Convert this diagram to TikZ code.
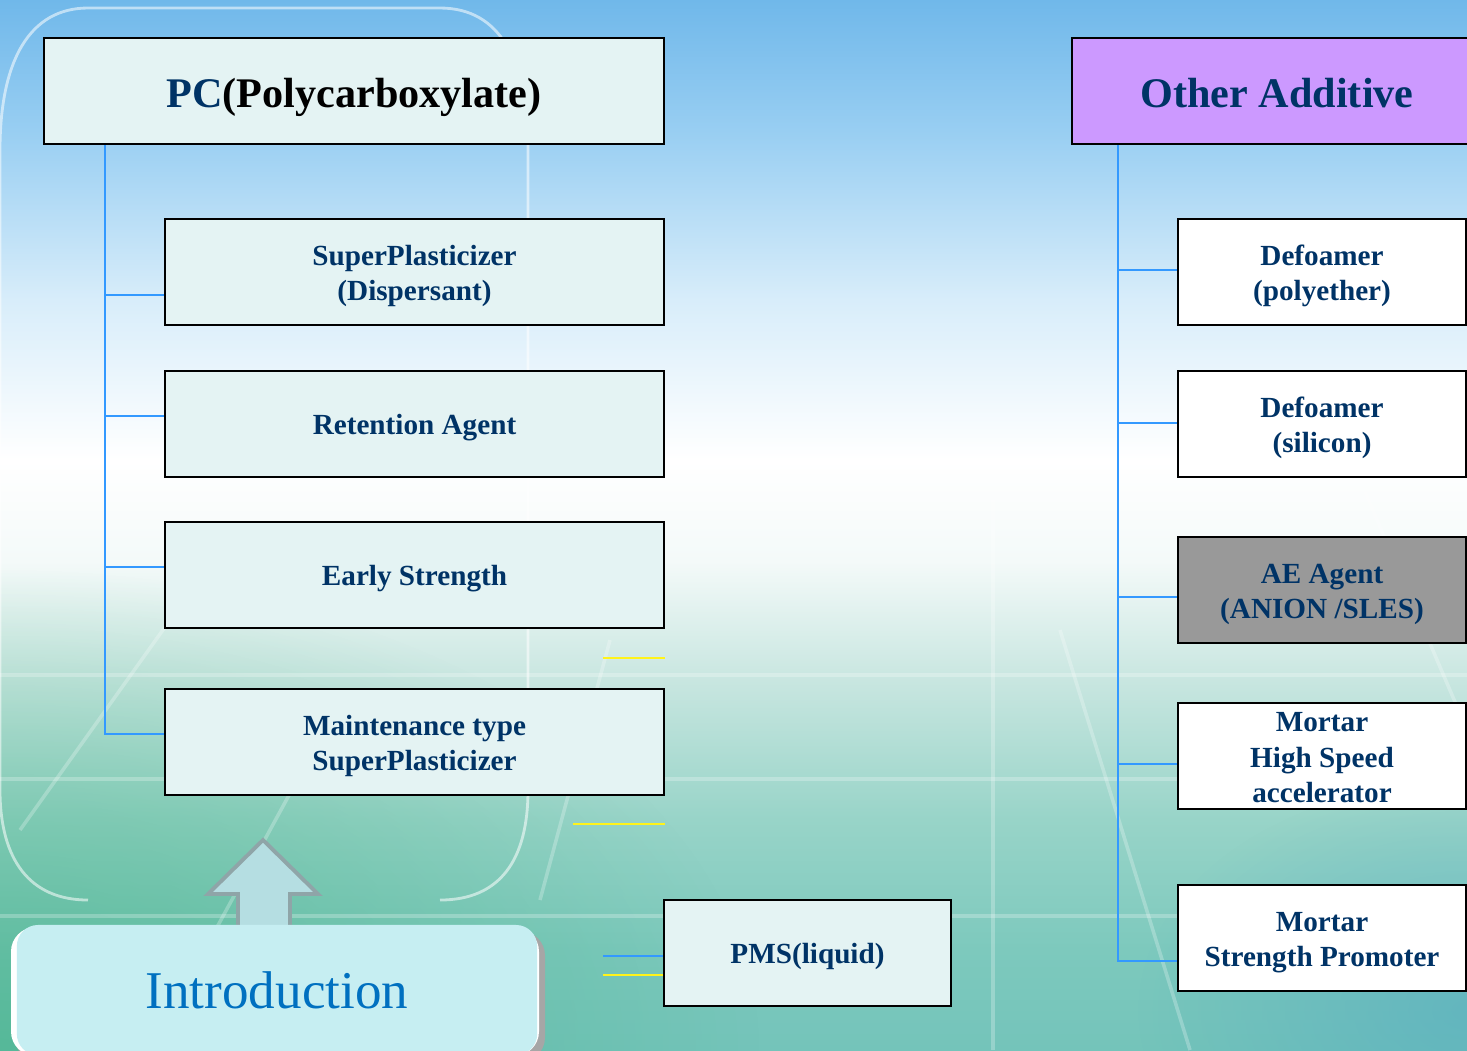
\documentclass[tikz,border=0pt]{standalone}
\usepackage{fontspec}
\setmainfont{Liberation Serif}
\usepackage{xcolor}
\usetikzlibrary{fadings}

\definecolor{navy}{HTML}{003366}
\definecolor{linkblue}{HTML}{3399FF}
\definecolor{boxcyan}{HTML}{E4F3F3}
\definecolor{lilac}{HTML}{CC99FF}
\definecolor{aegray}{HTML}{999999}
\definecolor{introblue}{HTML}{0070C0}
\definecolor{btncyan}{HTML}{C6EEF2}
\definecolor{arrowfill}{HTML}{B5DEE2}
\definecolor{arrowedge}{HTML}{8FA5A8}
\definecolor{bggreen}{HTML}{3DAF7E}
\definecolor{bgdeep}{HTML}{4AA3C4}

% slide background, bottom (25bp) to top (75bp)
\pgfdeclareverticalshading{slidebg}{100bp}{%
  color(0bp)=(rgb,255:red,116;green,196;blue,186);
  color(25bp)=(rgb,255:red,116;green,196;blue,186);
  color(29.8bp)=(rgb,255:red,125;green,201;blue,189);
  color(36bp)=(rgb,255:red,152;green,212;blue,200);
  color(42.6bp)=(rgb,255:red,200;green,230;blue,224);
  color(48.3bp)=(rgb,255:red,244;green,250;blue,249);
  color(53.1bp)=(rgb,255:red,255;green,255;blue,255);
  color(60.7bp)=(rgb,255:red,216;green,237;blue,250);
  color(68.8bp)=(rgb,255:red,152;green,206;blue,242);
  color(75bp)=(rgb,255:red,112;green,184;blue,234);
  color(100bp)=(rgb,255:red,112;green,184;blue,234)}

\tikzfading[name=glow, inner color=transparent!0, outer color=transparent!100]

\newcommand\itemfont{\bfseries\fontsize{8.3}{10.1}\selectfont}
\newcommand\headfont{\bfseries\fontsize{12}{14}\selectfont}

\begin{document}
\begin{tikzpicture}[x=0.01cm, y=-0.01cm,
    box/.style={draw=black, line width=0.7pt, inner sep=0pt, align=center, text=navy, font=\itemfont,
        text height=6.2pt, text depth=0pt},
    two lines/.style={text height=16.4pt},
    three lines/.style={text height=26.5pt},
    pcitem/.style={box, fill=boxcyan, minimum width=4.99cm, minimum height=1.06cm},
    additem/.style={box, fill=white, minimum width=2.88cm, minimum height=1.06cm},
    headbox/.style={box, minimum height=1.06cm, font=\headfont, text height=9.1pt},
    link/.style={linkblue, line width=0.6pt},
    yline/.style={yellow!90!white, line width=0.6pt},
    bgline/.style={white, opacity=0.25, line width=1pt}]

    \useasboundingbox (0,0) rectangle (1467,1050);
    \clip (0,0) rectangle (1467,1050);

    % background
    \shade[shading=slidebg] (0,0) rectangle (1467,1050);
    \fill[bggreen, opacity=0.55, path fading=glow] (0,1050) ellipse (760 and 480);
    \fill[bgdeep, opacity=0.45, path fading=glow] (1467,1010) ellipse (330 and 230);
    \draw[bgline] (0,675) -- (1467,675);
    \draw[bgline] (0,779) -- (1467,779);
    \draw[bgline] (0,916) -- (1467,916);
    \draw[bgline] (993,500) -- (993,1050);
    \draw[bgline] (20,830) -- (170,620);
    \draw[bgline] (150,1050) -- (330,720);
    \draw[bgline] (540,900) -- (610,640);
    \draw[bgline] (1360,480) -- (1467,730);
    \draw[bgline] (1060,630) -- (1190,1050);

    % frame round the PC column
    \draw[white, opacity=0.55, line width=0.8pt]
        (88,900) .. controls (30,900) and (0,860) .. (0,790) -- (0,150)
        .. controls (0,60) and (30,8) .. (88,8) -- (440,8)
        .. controls (500,8) and (528,60) .. (528,150) -- (528,790)
        .. controls (528,860) and (500,900) .. (440,900);

    % PC column
    \node[headbox, fill=boxcyan, minimum width=6.2cm] (pc) at (354,91)
        {{\color{navy}PC}{\color{black}(Polycarboxylate)}};
    \node[pcitem, two lines] (sp) at (414.5,272) {SuperPlasticizer\\(Dispersant)};
    \node[pcitem] (ret) at (414.5,424) {Retention Agent};
    \node[pcitem] (early) at (414.5,575) {Early Strength};
    \node[pcitem, two lines] (maint) at (414.5,742) {Maintenance type\\SuperPlasticizer};
    \node[box, fill=boxcyan, minimum width=2.87cm, minimum height=1.06cm] (pms) at (807.5,953) {PMS(liquid)};

    % other additives
    \node[headbox, fill=lilac, minimum width=4.1cm] (addi) at (1277,91) {Other Additive};
    \node[additem, two lines] (defp) at (1322,272) {Defoamer\\(polyether)};
    \node[additem, two lines] (defs) at (1322,424) {Defoamer\\(silicon)};
    \node[additem, two lines, fill=aegray] (ae) at (1322,590) {AE Agent\\(ANION /SLES)};
    \node[additem, three lines] (mhs) at (1322,756) {Mortar\\High Speed\\accelerator};
    \node[additem, two lines] (msp) at (1322,938) {Mortar\\Strength Promoter};

    % tree lines
    \draw[link] (pc.south -| 105,0) |- (maint.west |- 0,734);
    \foreach \n/\y in {sp/295, ret/416, early/567}
        \draw[link] (105,\y) -- (\n.west |- 0,\y);
    \draw[link] (addi.south -| 1118,0) |- (msp.west |- 0,961);
    \foreach \n/\y in {defp/270, defs/423, ae/597, mhs/764}
        \draw[link] (1118,\y) -- (\n.west |- 0,\y);
    \draw[link] (603,956) -- (pms.west |- 0,956);
    \draw[yline] (603,975) -- (pms.west |- 0,975);
    \draw[yline] (603,658) -- (early.east |- 0,658);
    \draw[yline] (573,824) -- (maint.east |- 0,824);

    % up arrow and button
    \filldraw[fill=arrowfill, draw=arrowedge, line width=1.1pt, line join=miter]
        (263,840) -- (318,894) -- (290,894) -- (290,940) -- (238,940)
        -- (238,894) -- (208,894) -- cycle;
    \fill[gray!70, rounded corners=7pt] (15,931) rectangle (545,1062);
    \fill[white, rounded corners=7pt] (11,927) rectangle (539,1056);
    \node[fill=btncyan, rounded corners=6pt, minimum width=5.2cm, minimum height=1.3cm,
          inner sep=0pt, text=introblue, font=\fontsize{15.1}{18}\selectfont]
        (intro) at (277,990) {Introduction};
\end{tikzpicture}
\end{document}
